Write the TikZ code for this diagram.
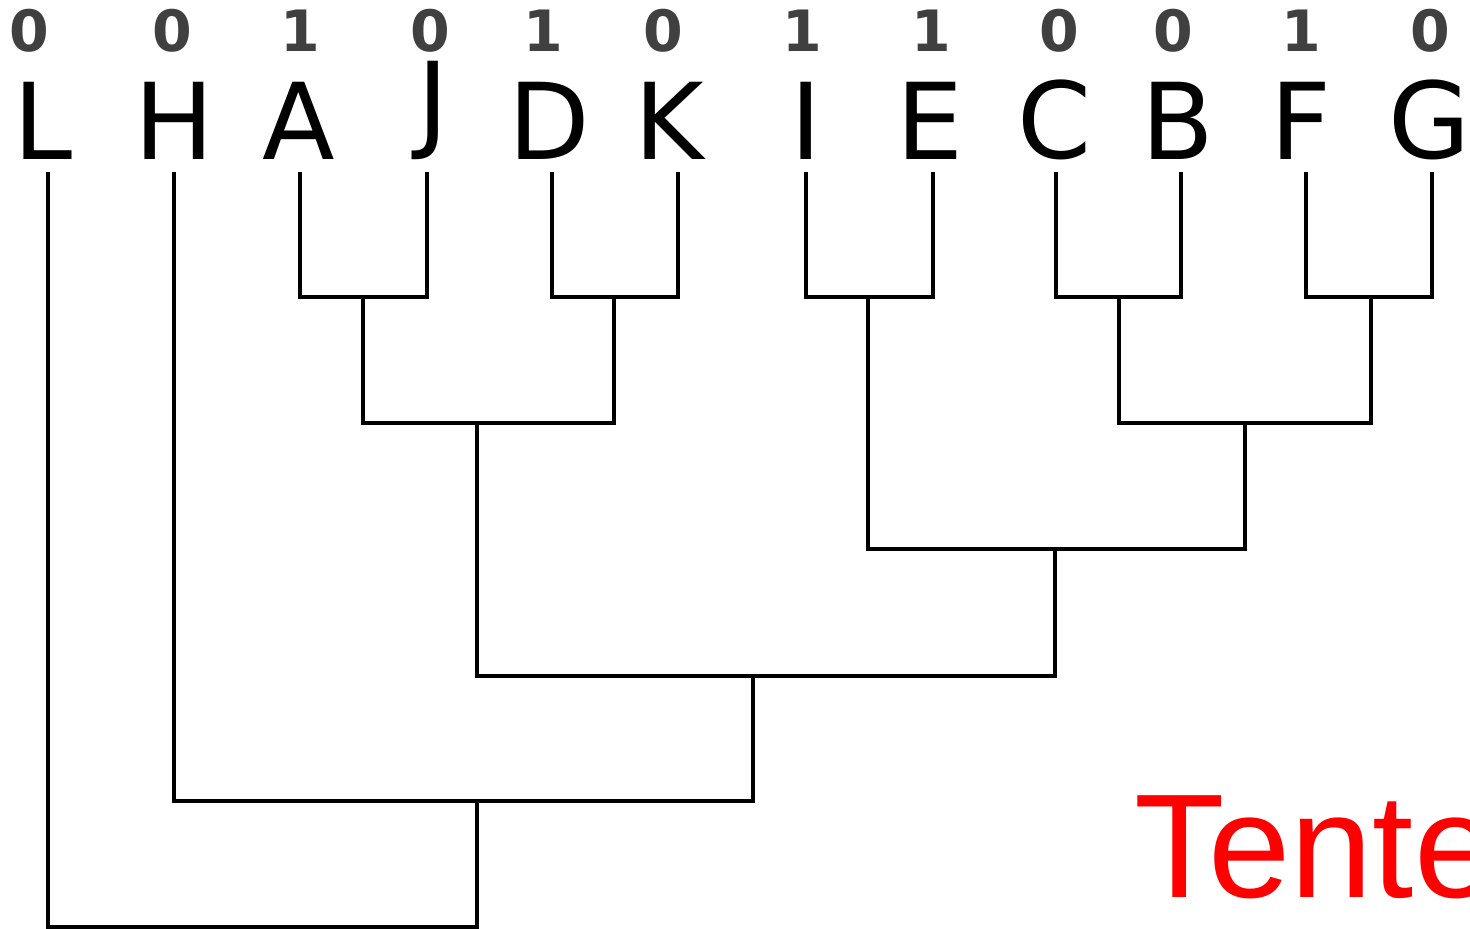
\documentclass[tikz,border=0pt]{standalone}
\usepackage{fontspec}
\newfontfamily\leaffont{DejaVu Sans}
\newfontfamily\digitfont{DejaVu Sans Bold}
\newfontfamily\arialfont{Liberation Sans}
\definecolor{digitgray}{RGB}{64,64,64}
\definecolor{tred}{RGB}{255,0,0}
\begin{document}
\begin{tikzpicture}[x=1pt,y=-1pt,
  leaf/.style={anchor=south,inner sep=0pt,font=\leaffont\fontsize{106}{110}\selectfont},
  bit/.style={anchor=base,inner sep=0pt,text=digitgray,font=\digitfont\fontsize{57}{60}\selectfont},
  branch/.style={draw=black,line width=4.4pt,line join=miter,line cap=butt}]
\clip (0,0) rectangle (1470,929);
\useasboundingbox (0,0) rectangle (1470,929);
% leaf tops and labels (labels nudged to centre their ink)
\foreach \n/\x/\dx in {L/48/-5,H/174/0,A/300/-1,J/427/6,D/552/-3,K/678/-9,I/806/0,E/933/-3,C/1056/-2,B/1181/-3,F/1306/-5,G/1432/-2}{
  \coordinate (t\n) at (\x,172);
  \node[leaf] (\n) at (\x+\dx,160) {\n};
}
% bit labels
\foreach \i/\x/\b in {1/29/0,2/172/0,3/300/1,4/430/0,5/543/1,6/663/0,7/802/1,8/931/1,9/1059/0,10/1173/0,11/1301/1,12/1430/0}{
  \node[bit] (b\i) at (\x,51) {\b};
}
% merge points
\coordinate (mAJ) at (363,297);
\coordinate (mDK) at (614,297);
\coordinate (mIE) at (868,297);
\coordinate (mCB) at (1119,297);
\coordinate (mFG) at (1371,297);
\coordinate (mAJDK) at (477,423);
\coordinate (mCBFG) at (1245,423);
\coordinate (mIECBFG) at (1055,549);
\coordinate (mMid) at (753,676);
\coordinate (mH) at (477,801);
\coordinate (mL) at (477,927);
% branches
\draw[branch] (tA) |- (mAJ) -| (tJ);
\draw[branch] (tD) |- (mDK) -| (tK);
\draw[branch] (tI) |- (mIE) -| (tE);
\draw[branch] (tC) |- (mCB) -| (tB);
\draw[branch] (tF) |- (mFG) -| (tG);
\draw[branch] (mAJ) |- (mAJDK) -| (mDK);
\draw[branch] (mCB) |- (mCBFG) -| (mFG);
\draw[branch] (mIE) |- (mIECBFG) -| (mCBFG);
\draw[branch] (mAJDK) |- (mMid) -| (mIECBFG);
\draw[branch] (tH) |- (mH) -| (mMid);
\draw[branch] (tL) |- (mL) -| (mH);
% red text
\node[anchor=base west,inner sep=0pt,text=tred,font=\arialfont\fontsize{148}{150}\selectfont] (tente) at (1134,897) {Tente};
\end{tikzpicture}
\end{document}
